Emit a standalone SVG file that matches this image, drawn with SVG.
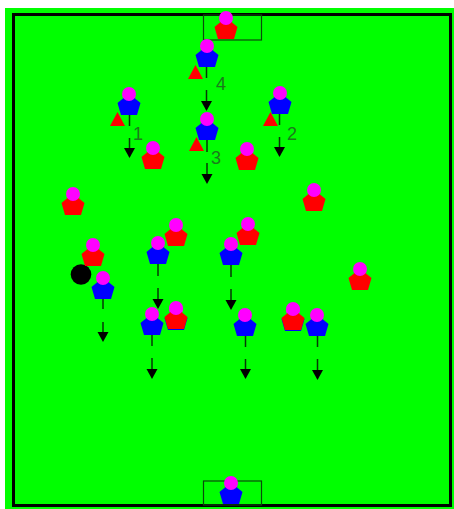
<svg xmlns="http://www.w3.org/2000/svg" width="454" height="509" viewBox="0 0 454 509">
<style>
.body-r{fill:#ff0000}.body-b{fill:#0000ff}.head{fill:#ff00ff}
.goal{fill:none;stroke:#0a4a0a;stroke-width:1.2}
.ln{stroke:#063806;stroke-width:1.5;fill:none}
.tri{fill:#ff0000}
.lbl{font-family:"Liberation Sans",Arial,sans-serif;font-size:18px;fill:#1c7a1c}
</style>
<defs>
<polygon id="pent" points="-11.500,9 -5.500,4 5.500,4 11.500,9 8,21 -8,21"/>
<circle id="hd" class="head" r="7"/>
<g id="red"><use href="#pent" class="body-r"/><use href="#hd"/></g>
<g id="blue"><use href="#pent" class="body-b"/><use href="#hd"/></g>
<polygon id="ah" points="-5.500,-10 5.500,-10 0,0" fill="#000"/>
</defs>
<rect x="0" y="0" width="454" height="509" fill="#fff"/>
<rect id="pitch" x="5" y="8" width="449" height="501" fill="#00ff00"/>
<rect id="border" x="13.500" y="14.500" width="437" height="491" fill="none" stroke="#000" stroke-width="3"/>
<rect id="goal-top" class="goal" x="203.500" y="15" width="58" height="25"/>
<rect id="goal-bottom" class="goal" x="203.500" y="481" width="58" height="24"/>
<g id="connectors">
<path class="ln" d="M206.500 66V78M206.500 90V102M129.500 114V126M129.500 138V150M279.500 113V125M279.500 137V149M207 139V152M207 163V175M158 263V276M158 288V300M231 264V277M231 289V301M103 297V309M103 322V334M152 335V346M152 358V370M245.500 335V347M245.500 359V371M317.500 335V347M317.500 359V371"/>
<use href="#ah" x="206.500" y="111"/>
<use href="#ah" x="129.500" y="158"/>
<use href="#ah" x="279.500" y="157"/>
<use href="#ah" x="207" y="184"/>
<use href="#ah" x="158" y="309"/>
<use href="#ah" x="231" y="310"/>
<use href="#ah" x="103" y="342"/>
<use href="#ah" x="152" y="379"/>
<use href="#ah" x="245.500" y="379"/>
<use href="#ah" x="317.500" y="380"/>
</g>
<g id="cones">
<polygon class="tri" points="195.500,65 188,79 203,79"/>
<polygon class="tri" points="117.500,112 110,126 125,126"/>
<polygon class="tri" points="270.500,112 263,126 278,126"/>
<polygon class="tri" points="196.500,137 189,151 204,151"/>
</g>
<g id="labels">
<text class="lbl" x="216" y="90">4</text>
<text class="lbl" x="133" y="140">1</text>
<text class="lbl" x="287" y="140">2</text>
<text class="lbl" x="211" y="164">3</text>
</g>
<circle id="ball" cx="81" cy="274.500" r="10.300" fill="#000"/>
<use id="r1" href="#red" x="226" y="18"/>
<use id="r2" href="#red" x="153" y="148"/>
<use id="r3" href="#red" x="247" y="149"/>
<use id="r4" href="#red" x="73" y="194"/>
<use id="r5" href="#red" x="314" y="190"/>
<use id="r6" href="#red" x="176" y="225"/>
<use id="r7" href="#red" x="248" y="224"/>
<use id="r8" href="#red" x="93" y="245"/>
<use id="r9" href="#red" x="360" y="269"/>
<use id="b12" href="#blue" x="176" y="309"/>
<use id="b13" href="#blue" x="293" y="310"/>
<use id="r10" href="#red" x="176" y="308"/>
<use id="r11" href="#red" x="293" y="309"/>
<use id="b1" href="#blue" x="207" y="46"/>
<use id="b2" href="#blue" x="129" y="94"/>
<use id="b3" href="#blue" x="280" y="93"/>
<use id="b4" href="#blue" x="207" y="119"/>
<use id="b5" href="#blue" x="158" y="243"/>
<use id="b6" href="#blue" x="231" y="244"/>
<use id="b7" href="#blue" x="103" y="278"/>
<use id="b8" href="#blue" x="152" y="314"/>
<use id="b9" href="#blue" x="245" y="315"/>
<use id="b10" href="#blue" x="317" y="315"/>
<use id="b11" href="#blue" x="231" y="483"/>
</svg>
